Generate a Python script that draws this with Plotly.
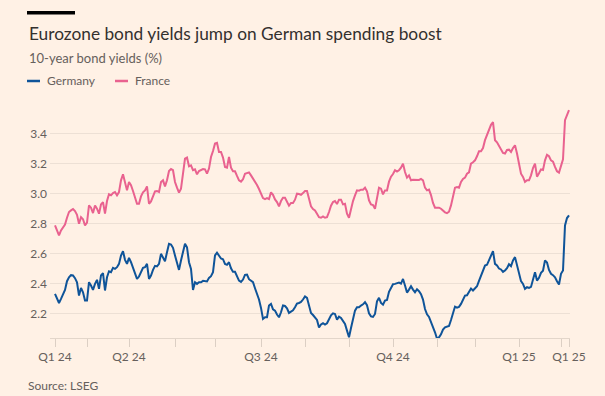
import plotly.graph_objects as go

# trading-day index of each observation
days = list(range(0, 258))

germany = [
    2.333, 2.30, 2.273, 2.30, 2.329, 2.36, 2.418, 2.444, 2.458, 2.456,
    2.438, 2.411, 2.322, 2.373, 2.344, 2.289, 2.289, 2.411, 2.389, 2.36,
    2.40, 2.427, 2.367, 2.456, 2.471, 2.356, 2.444, 2.484, 2.478, 2.507,
    2.50, 2.511, 2.533, 2.589, 2.618, 2.56, 2.533, 2.573, 2.544, 2.507,
    2.478, 2.433,
    2.449, 2.478, 2.507, 2.511, 2.533, 2.433, 2.456, 2.493, 2.52, 2.516,
    2.533, 2.60, 2.573, 2.551, 2.611, 2.667, 2.662, 2.64, 2.589, 2.542,
    2.493, 2.556, 2.611, 2.667, 2.644, 2.544, 2.50, 2.36, 2.411, 2.40,
    2.411, 2.411, 2.42, 2.416, 2.416, 2.44, 2.451, 2.478, 2.589, 2.607,
    2.584, 2.569, 2.564, 2.533, 2.527,
    2.544, 2.504, 2.48, 2.48, 2.451, 2.422, 2.413, 2.429, 2.46, 2.462,
    2.431, 2.42, 2.411, 2.371, 2.333, 2.296, 2.24, 2.167, 2.178, 2.178,
    2.256, 2.267, 2.231, 2.222, 2.196, 2.178, 2.211, 2.256, 2.253, 2.238,
    2.207, 2.218, 2.224, 2.244, 2.269, 2.273, 2.28, 2.296, 2.316, 2.307,
    2.249, 2.207, 2.193, 2.173, 2.16,
    2.11, 2.13, 2.138, 2.129, 2.138, 2.164, 2.191, 2.204, 2.20, 2.162,
    2.182, 2.173, 2.149, 2.133, 2.089, 2.045, 2.107, 2.156, 2.222, 2.244,
    2.244, 2.256, 2.264, 2.278, 2.258, 2.204, 2.184, 2.18, 2.20, 2.284,
    2.307, 2.273, 2.262, 2.289, 2.293, 2.347, 2.378, 2.398, 2.40, 2.407,
    2.409, 2.402, 2.433, 2.389, 2.342,
    2.362, 2.384, 2.362, 2.344, 2.364, 2.351, 2.331, 2.296, 2.233, 2.198,
    2.18, 2.147, 2.116, 2.078, 2.036, 2.044, 2.064, 2.096, 2.111, 2.116,
    2.12, 2.16, 2.213, 2.249, 2.242, 2.247, 2.267, 2.296, 2.322, 2.324,
    2.351, 2.369, 2.356, 2.367, 2.384, 2.42, 2.453, 2.484, 2.522, 2.527,
    2.558, 2.591, 2.618, 2.533, 2.522, 2.502,
    2.496, 2.48, 2.489, 2.504, 2.531, 2.518, 2.556, 2.578, 2.524, 2.471,
    2.418, 2.40, 2.367, 2.378, 2.373, 2.38, 2.433, 2.478, 2.422, 2.44,
    2.473, 2.487, 2.556, 2.542, 2.493, 2.467, 2.458, 2.444, 2.418, 2.396,
    2.467, 2.489, 2.789, 2.838, 2.856,
]

france = [
    2.789, 2.76, 2.722, 2.756, 2.778, 2.795, 2.84, 2.878, 2.889, 2.898,
    2.884, 2.86, 2.80, 2.844, 2.83, 2.789, 2.807, 2.922, 2.907, 2.871,
    2.922, 2.90, 2.867, 2.929, 2.944, 2.867, 2.951, 2.996, 2.989, 3.004,
    3.011, 2.989, 3.011, 3.089, 3.129, 3.067, 3.022, 3.078, 3.056, 3.018,
    2.982, 2.933,
    2.933, 2.982, 3.009, 3.022, 3.049, 2.933, 2.949, 2.982, 3.016, 3.018,
    3.011, 3.078, 3.089, 3.049, 3.089, 3.151, 3.164, 3.156, 3.078, 3.04,
    3.007, 3.033, 3.122, 3.233, 3.24, 3.182, 3.189, 3.156, 3.162, 3.129,
    3.151, 3.16, 3.164, 3.162, 3.133, 3.167, 3.244, 3.284, 3.333, 3.338,
    3.278, 3.278, 3.24, 3.178, 3.173,
    3.244, 3.173, 3.149, 3.149, 3.118, 3.089, 3.08, 3.096, 3.133, 3.136,
    3.142, 3.122, 3.102, 3.076, 3.058, 3.031, 2.996, 2.971, 2.964, 2.971,
    2.964, 3.009, 2.993, 2.962, 2.944, 2.916, 2.951, 2.973, 2.973, 2.947,
    2.92, 2.938, 2.938, 2.96, 3.0, 2.998, 2.993, 3.004, 3.018, 3.018,
    2.96, 2.916, 2.898, 2.889, 2.867,
    2.844, 2.84, 2.849, 2.84, 2.844, 2.878, 2.92, 2.944, 2.951, 2.931,
    2.96, 2.96, 2.929, 2.933, 2.867, 2.84, 2.898, 2.951, 2.989, 3.022,
    3.02, 3.027, 3.027, 3.04, 3.016, 2.956, 2.929, 2.924, 2.90, 2.971,
    3.04, 3.033, 2.996, 3.022, 3.022, 3.08, 3.113, 3.131, 3.156, 3.147,
    3.156, 3.173, 3.20, 3.144, 3.107,
    3.122, 3.089, 3.093, 3.093, 3.089, 3.091, 3.098, 3.089, 3.04, 3.022,
    3.027, 2.991, 2.938, 2.907, 2.907, 2.907, 2.90, 2.887, 2.876, 2.871,
    2.88, 2.922, 2.989, 3.04, 3.044, 3.04, 3.078, 3.098, 3.107, 3.133,
    3.142, 3.20, 3.209, 3.222, 3.249, 3.282, 3.282, 3.304, 3.356, 3.393,
    3.431, 3.458, 3.476, 3.356, 3.342, 3.316,
    3.296, 3.271, 3.267, 3.291, 3.293, 3.278, 3.304, 3.322, 3.267, 3.20,
    3.133, 3.111, 3.078, 3.089, 3.089, 3.122, 3.171, 3.20, 3.113, 3.136,
    3.162, 3.158, 3.222, 3.258, 3.249, 3.222, 3.213, 3.178, 3.149, 3.14,
    3.184, 3.229, 3.489, 3.529, 3.556,
]

tick_days = [0, 16, 37, 60, 80, 103, 125, 147, 169, 191, 210, 232, 253, 257]
tick_text = ["Q1 24", "", "Q2 24", "", "", "Q3 24", "", "", "Q4 24", "", "", "Q1 25", "", "Q1 25"]
y_ticks = [2.2, 2.4, 2.6, 2.8, 3.0, 3.2, 3.4]

title = "Eurozone bond yields jump on German spending boost"
subtitle = "10-year bond yields (%)"
source = "Source: LSEG"
series_names = ["Germany", "France"]
colors = ["#0F5499", "#E9628F"]

BG = "#FFF1E5"
GREY = "#66605C"
FONT = "Lato, 'Open Sans', sans-serif"

# plot area geometry (pixels)
L, R, T, B = 50, 35, 105, 58
W, H = 605, 396
pw, ph = W - L - R, H - T - B


def px(x):
    return (x - L) / pw


def py(y):
    return (H - B - y) / ph


fig = go.Figure()
for name, vals, col in zip(series_names, [germany, france], colors):
    fig.add_trace(go.Scatter(x=days[:len(vals)], y=vals, mode="lines", name=name,
                             line=dict(color=col, width=2), showlegend=False,
                             hoverinfo="skip"))

fig.update_layout(
    width=W, height=H,
    margin=dict(l=L, r=R, t=T, b=B),
    paper_bgcolor=BG, plot_bgcolor=BG,
    font=dict(family=FONT, color=GREY, size=12),
    xaxis=dict(range=[-2.5, 257.5], tickmode="array", tickvals=tick_days, ticktext=tick_text,
               showgrid=False, zeroline=False, showline=True, linecolor="#E3D6CA", linewidth=1,
               ticks="outside", ticklen=8, tickcolor="#DCCFC4", tickwidth=1,
               tickfont=dict(size=12, color=GREY, family=FONT)),
    yaxis=dict(range=[2.04, 3.59], tickmode="array", tickvals=y_ticks, tickformat=".1f",
               showgrid=True, gridcolor="#EDE0D5", gridwidth=1, zeroline=False, showline=False,
               ticks="", ticklabelstandoff=2,
               tickfont=dict(size=12, color=GREY, family=FONT)),
)

annotations = [
    dict(text=title, x=px(27), y=py(33), font=dict(size=17.3, color="#33302E", family=FONT)),
    dict(text=subtitle, x=px(27), y=py(57.5), font=dict(size=13, color=GREY, family=FONT)),
    dict(text=series_names[0], x=px(45), y=py(81), font=dict(size=12, color=GREY, family=FONT)),
    dict(text=series_names[1], x=px(133), y=py(81), font=dict(size=12, color=GREY, family=FONT)),
    dict(text=source, x=px(26), y=py(385), font=dict(size=12, color=GREY, family=FONT)),
]
for a in annotations:
    a.update(xref="paper", yref="paper", xanchor="left", yanchor="middle", showarrow=False)
fig.update_layout(annotations=annotations)

shapes = [
    dict(type="rect", x0=px(27), x1=px(75), y0=py(14.5), y1=py(11), fillcolor="#000000", line=dict(width=0)),
    dict(type="line", x0=px(27), x1=px(40), y0=py(81), y1=py(81), line=dict(color=colors[0], width=2.5)),
    dict(type="line", x0=px(115), x1=px(128), y0=py(81), y1=py(81), line=dict(color=colors[1], width=2.5)),
]
for s in shapes:
    s.update(xref="paper", yref="paper")
fig.update_layout(shapes=shapes)

# remove the browser's default page margin so the figure sits at the window origin
page_css = ("document.body.style.margin='0';document.body.style.background='" + BG + "';"
            "document.body.style.overflow='hidden';")
fig.write_html("out.html", post_script=page_css, config={"displayModeBar": False})
